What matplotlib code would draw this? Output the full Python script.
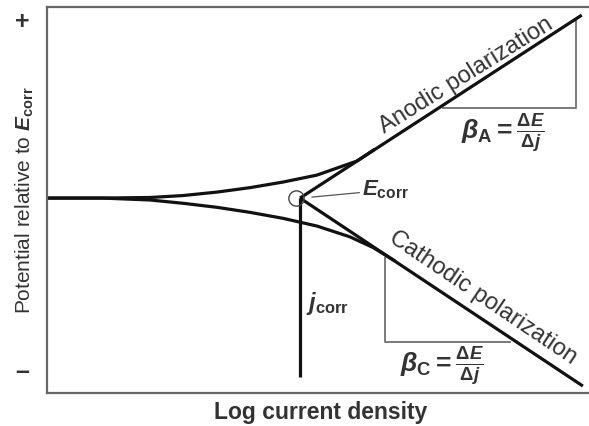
import numpy as np
import matplotlib
matplotlib.use("Agg")
import matplotlib.pyplot as plt

plt.rcParams['font.family'] = ['Liberation Sans', 'DejaVu Sans']
plt.rcParams['mathtext.fontset'] = 'custom'
plt.rcParams['mathtext.rm'] = 'Liberation Sans:bold'
plt.rcParams['mathtext.it'] = 'Liberation Sans:italic:bold'
plt.rcParams['mathtext.bf'] = 'Liberation Sans:bold'

# corrosion potential / current (log current density units, potential rel. to Ecorr)
e_corr = (4.575, 0.0)

# Tafel lines from Ecorr
anodic_tafel_x = [4.575, 9.67]
anodic_tafel_y = [0.0, 0.948]
cathodic_tafel_x = [4.575, 9.69]
cathodic_tafel_y = [0.0, -0.974]

anodic_x = [0.0, 1.0, 1.863, 2.459, 3.074, 3.671, 4.268, 4.882, 5.298, 5.606, 5.931]
anodic_y = [0.0, 0.0, 0.003, 0.013, 0.031, 0.054, 0.083, 0.119, 0.161, 0.192, 0.254]
cathodic_x = [0.0, 1.0, 1.863, 2.459, 3.074, 3.671, 4.268, 4.882, 5.479, 5.895, 6.293]
cathodic_y = [0.0, 0.0, -0.010, -0.027, -0.048, -0.074, -0.105, -0.145, -0.201, -0.256, -0.326]

# j_corr vertical
jcorr_x = [4.575, 4.575]
jcorr_y = [0.0, -0.927]

# slope triangles
tri_a_x = [7.16, 9.57, 9.57]
tri_a_y = [0.466, 0.466, 0.929]
tri_c_x = [6.11, 6.11, 8.37]
tri_c_y = [-0.311, -0.746, -0.746]

fig = plt.figure(figsize=(5.89, 4.26), dpi=100)
ax = fig.add_axes([47 / 589, 33 / 426, 553 / 589, 386 / 426])
ax.set_xlim(0, 10)
ax.set_ylim(-1.01, 0.99)

line_c = '#111111'
text_c = '#333333'
gray = '#7a7a7a'

ax.plot(tri_a_x, tri_a_y, color=gray, lw=1.4)
ax.plot(tri_c_x, tri_c_y, color=gray, lw=1.4)

kw = dict(color=line_c, lw=2.3, solid_joinstyle='round', solid_capstyle='butt')
ax.plot(anodic_tafel_x, anodic_tafel_y, **kw)
ax.plot(cathodic_tafel_x, cathodic_tafel_y, **kw)
ax.plot(anodic_x, anodic_y, **kw)
ax.plot(cathodic_x, cathodic_y, **kw)
ax.plot(jcorr_x, jcorr_y, **kw)

ax.plot(e_corr[0] - 0.07, e_corr[1], marker='o', ms=11, mfc='none',
        mec='#444444', mew=1.0)
ax.annotate(r'$E_{\rm corr}$', xy=(4.79, 0.005), xytext=(5.70, 0.041),
            fontsize=16, color=text_c, va='center', ha='left',
            arrowprops=dict(arrowstyle='-', color='#555555', lw=0.9,
                            shrinkA=0, shrinkB=0))

ax.text(7.58, 0.637, 'Anodic polarization', rotation=32, rotation_mode='anchor',
        ha='center', va='center', fontsize=17, color=text_c)
ax.text(7.88, -0.518, 'Cathodic polarization', rotation=-34, rotation_mode='anchor',
        ha='center', va='center', fontsize=17, color=text_c)
ax.text(8.25, 0.337, r'$\beta_{\rm A} = \frac{\Delta E}{\Delta j}$',
        ha='center', va='center', fontsize=19, color=text_c)
ax.text(7.14, -0.870, r'$\beta_{\rm C} = \frac{\Delta E}{\Delta j}$',
        ha='center', va='center', fontsize=19, color=text_c)
ax.text(5.08, -0.544, r'$j_{\rm corr}$', ha='center', va='center',
        fontsize=17, color=text_c)

ax.set_xticks([])
ax.set_yticks([])
for side in ['left', 'bottom', 'top']:
    ax.spines[side].set_color('#666666')
    ax.spines[side].set_linewidth(1.6)
ax.spines['right'].set_visible(False)

fig.text(22 / 589, 1 - 22 / 426, '+', ha='center', va='center',
         fontsize=18, fontweight='bold', color=text_c)
fig.text(22 / 589, 1 - 372 / 426, '\u2013', ha='center', va='center',
         fontsize=18, fontweight='bold', color=text_c)
fig.text(25 / 589, 1 - 200 / 426, r'Potential relative to $E_{\rm corr}$',
         rotation=90, ha='center', va='center', fontsize=15, color=text_c)
fig.text(321 / 589, 1 - 413 / 426, 'Log current density', ha='center',
         va='center', fontsize=16.5, fontweight='bold', color=text_c)

fig.savefig('out.png', dpi=100, facecolor='white')
